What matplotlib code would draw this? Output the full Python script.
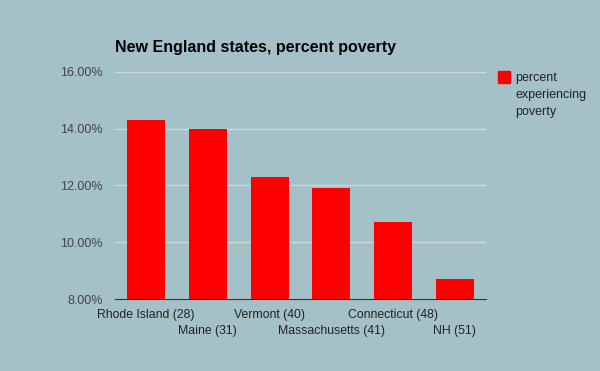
import matplotlib.pyplot as plt
import matplotlib.transforms as mtransforms
import numpy as np
from matplotlib.patches import Rectangle

plt.rcParams['font.family'] = ['Liberation Sans', 'DejaVu Sans']

states = ['Rhode Island (28)', 'Maine (31)', 'Vermont (40)',
          'Massachusetts (41)', 'Connecticut (48)', 'NH (51)']
poverty = [14.3, 14.0, 12.3, 11.9, 10.7, 8.7]
y_ticks = [8, 10, 12, 14, 16]
series_name = 'percent\nexperiencing\npoverty'

bg = '#a3c1c7'
bar_color = '#ff0000'
fig = plt.figure(figsize=(6, 3.71), dpi=100, facecolor=bg)
ax = fig.add_axes([0.1917, 0.194, 0.618, 0.612], facecolor=bg)

x = np.arange(len(states))
ax.bar(x, [p - 8 for p in poverty], bottom=8, width=0.615, color=bar_color,
       zorder=3)

ax.set_xlim(-0.5, len(states) - 0.5)
ax.set_ylim(8, 16)
ax.set_yticks(y_ticks)
ax.set_yticklabels([f'{t:.2f}%' for t in y_ticks])
ax.yaxis.grid(True, color='#cfdcde', linewidth=1, zorder=0)

# category labels staggered on two rows
ax.set_xticks([])
for i, s in enumerate(states):
    off = -16 if i % 2 == 0 else -32
    tr = mtransforms.offset_copy(ax.get_xaxis_transform(), fig=fig,
                                 x=0, y=off, units='dots')
    ax.text(x[i], 0, s, transform=tr, ha='center', va='center',
            fontsize=8.8, color='#222222')

for side in ['top', 'right', 'left']:
    ax.spines[side].set_visible(False)
ax.spines['bottom'].set_color('#333333')
ax.tick_params(axis='both', length=0)
ax.tick_params(axis='y', labelsize=9, labelcolor='#444444', pad=9)

fig.text(0.1917, 0.853, 'New England states, percent poverty',
         fontsize=11.5, fontweight='bold', color='black', va='bottom')

# legend: square aligned with first line of text
fig.patches.append(Rectangle((498 / 600, 1 - 83 / 371), 12 / 600, 12 / 371,
                             transform=fig.transFigure, color=bar_color,
                             figure=fig))
fig.text(515 / 600, 1 - 72 / 371, series_name, fontsize=9, color='#222222',
         va='top', ha='left', linespacing=1.55)

fig.savefig('out.png', dpi=100, facecolor=bg)
